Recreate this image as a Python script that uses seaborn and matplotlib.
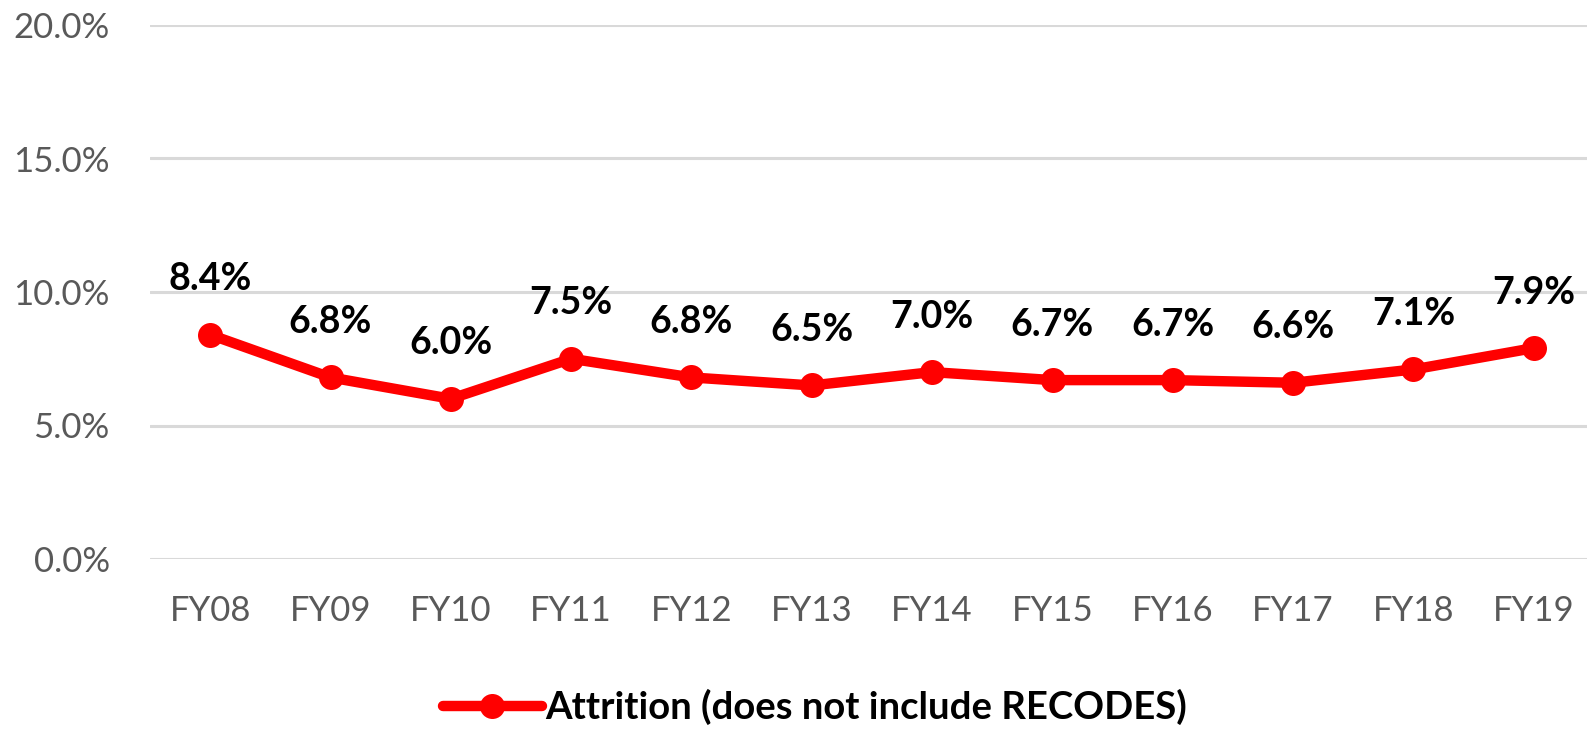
import matplotlib
matplotlib.use("Agg")
import matplotlib.pyplot as plt
import seaborn as sns
import pandas as pd

years = ["FY08", "FY09", "FY10", "FY11", "FY12", "FY13", "FY14", "FY15", "FY16", "FY17", "FY18", "FY19"]
attrition = [8.4, 6.8, 6.0, 7.5, 6.8, 6.5, 7.0, 6.7, 6.7, 6.6, 7.1, 7.9]
yticks = [0, 5, 10, 15, 20]
series_name = "Attrition (does not include RECODES)"

sns.set_theme(style="white")
plt.rcParams['font.family'] = ['Lato', 'DejaVu Sans']

df = pd.DataFrame({"year": years, "value": attrition, "series": series_name})

W, H = 1587, 729
fig = plt.figure(figsize=(W / 100, H / 100), dpi=100)
left, right, top, bottom = 150, 1594, 25, 559
ax = fig.add_axes([left / W, 1 - bottom / H, (right - left) / W, (bottom - top) / H])

sns.lineplot(data=df, x="year", y="value", hue="series", palette=["#FF0000"],
             marker="o", markersize=18, linewidth=7.5, markeredgewidth=0,
             sort=False, ax=ax)

for i, v in enumerate(attrition):
    ax.annotate(f"{v:.1f}%", (i, v), xytext=(0, 32), textcoords="offset points",
                ha="center", va="baseline", fontsize=27, fontweight="bold", color="black")

ax.set_ylim(0, 20)
ax.set_xlim(-0.5, len(years) - 0.5)
ax.set_yticks(yticks)
ax.set_yticklabels([f"{t:.1f}%" for t in yticks])
ax.yaxis.grid(True, color="#D9D9D9", linewidth=2.2)
ax.xaxis.grid(False)
for s in ax.spines.values():
    s.set_visible(False)
ax.tick_params(axis="both", length=0, labelsize=25, labelcolor="#595959")
ax.tick_params(axis="y", pad=29)
ax.tick_params(axis="x", pad=26)
ax.set_xlabel("")
ax.set_ylabel("")

ax.legend(loc="center", bbox_to_anchor=(815 / W, 1 - 707 / H), bbox_transform=fig.transFigure,
          frameon=False, borderpad=0, prop={"size": 27.5, "weight": "bold"},
          handlelength=2.6, handletextpad=0.1, labelcolor="black")

fig.savefig("out.png", dpi=100)
